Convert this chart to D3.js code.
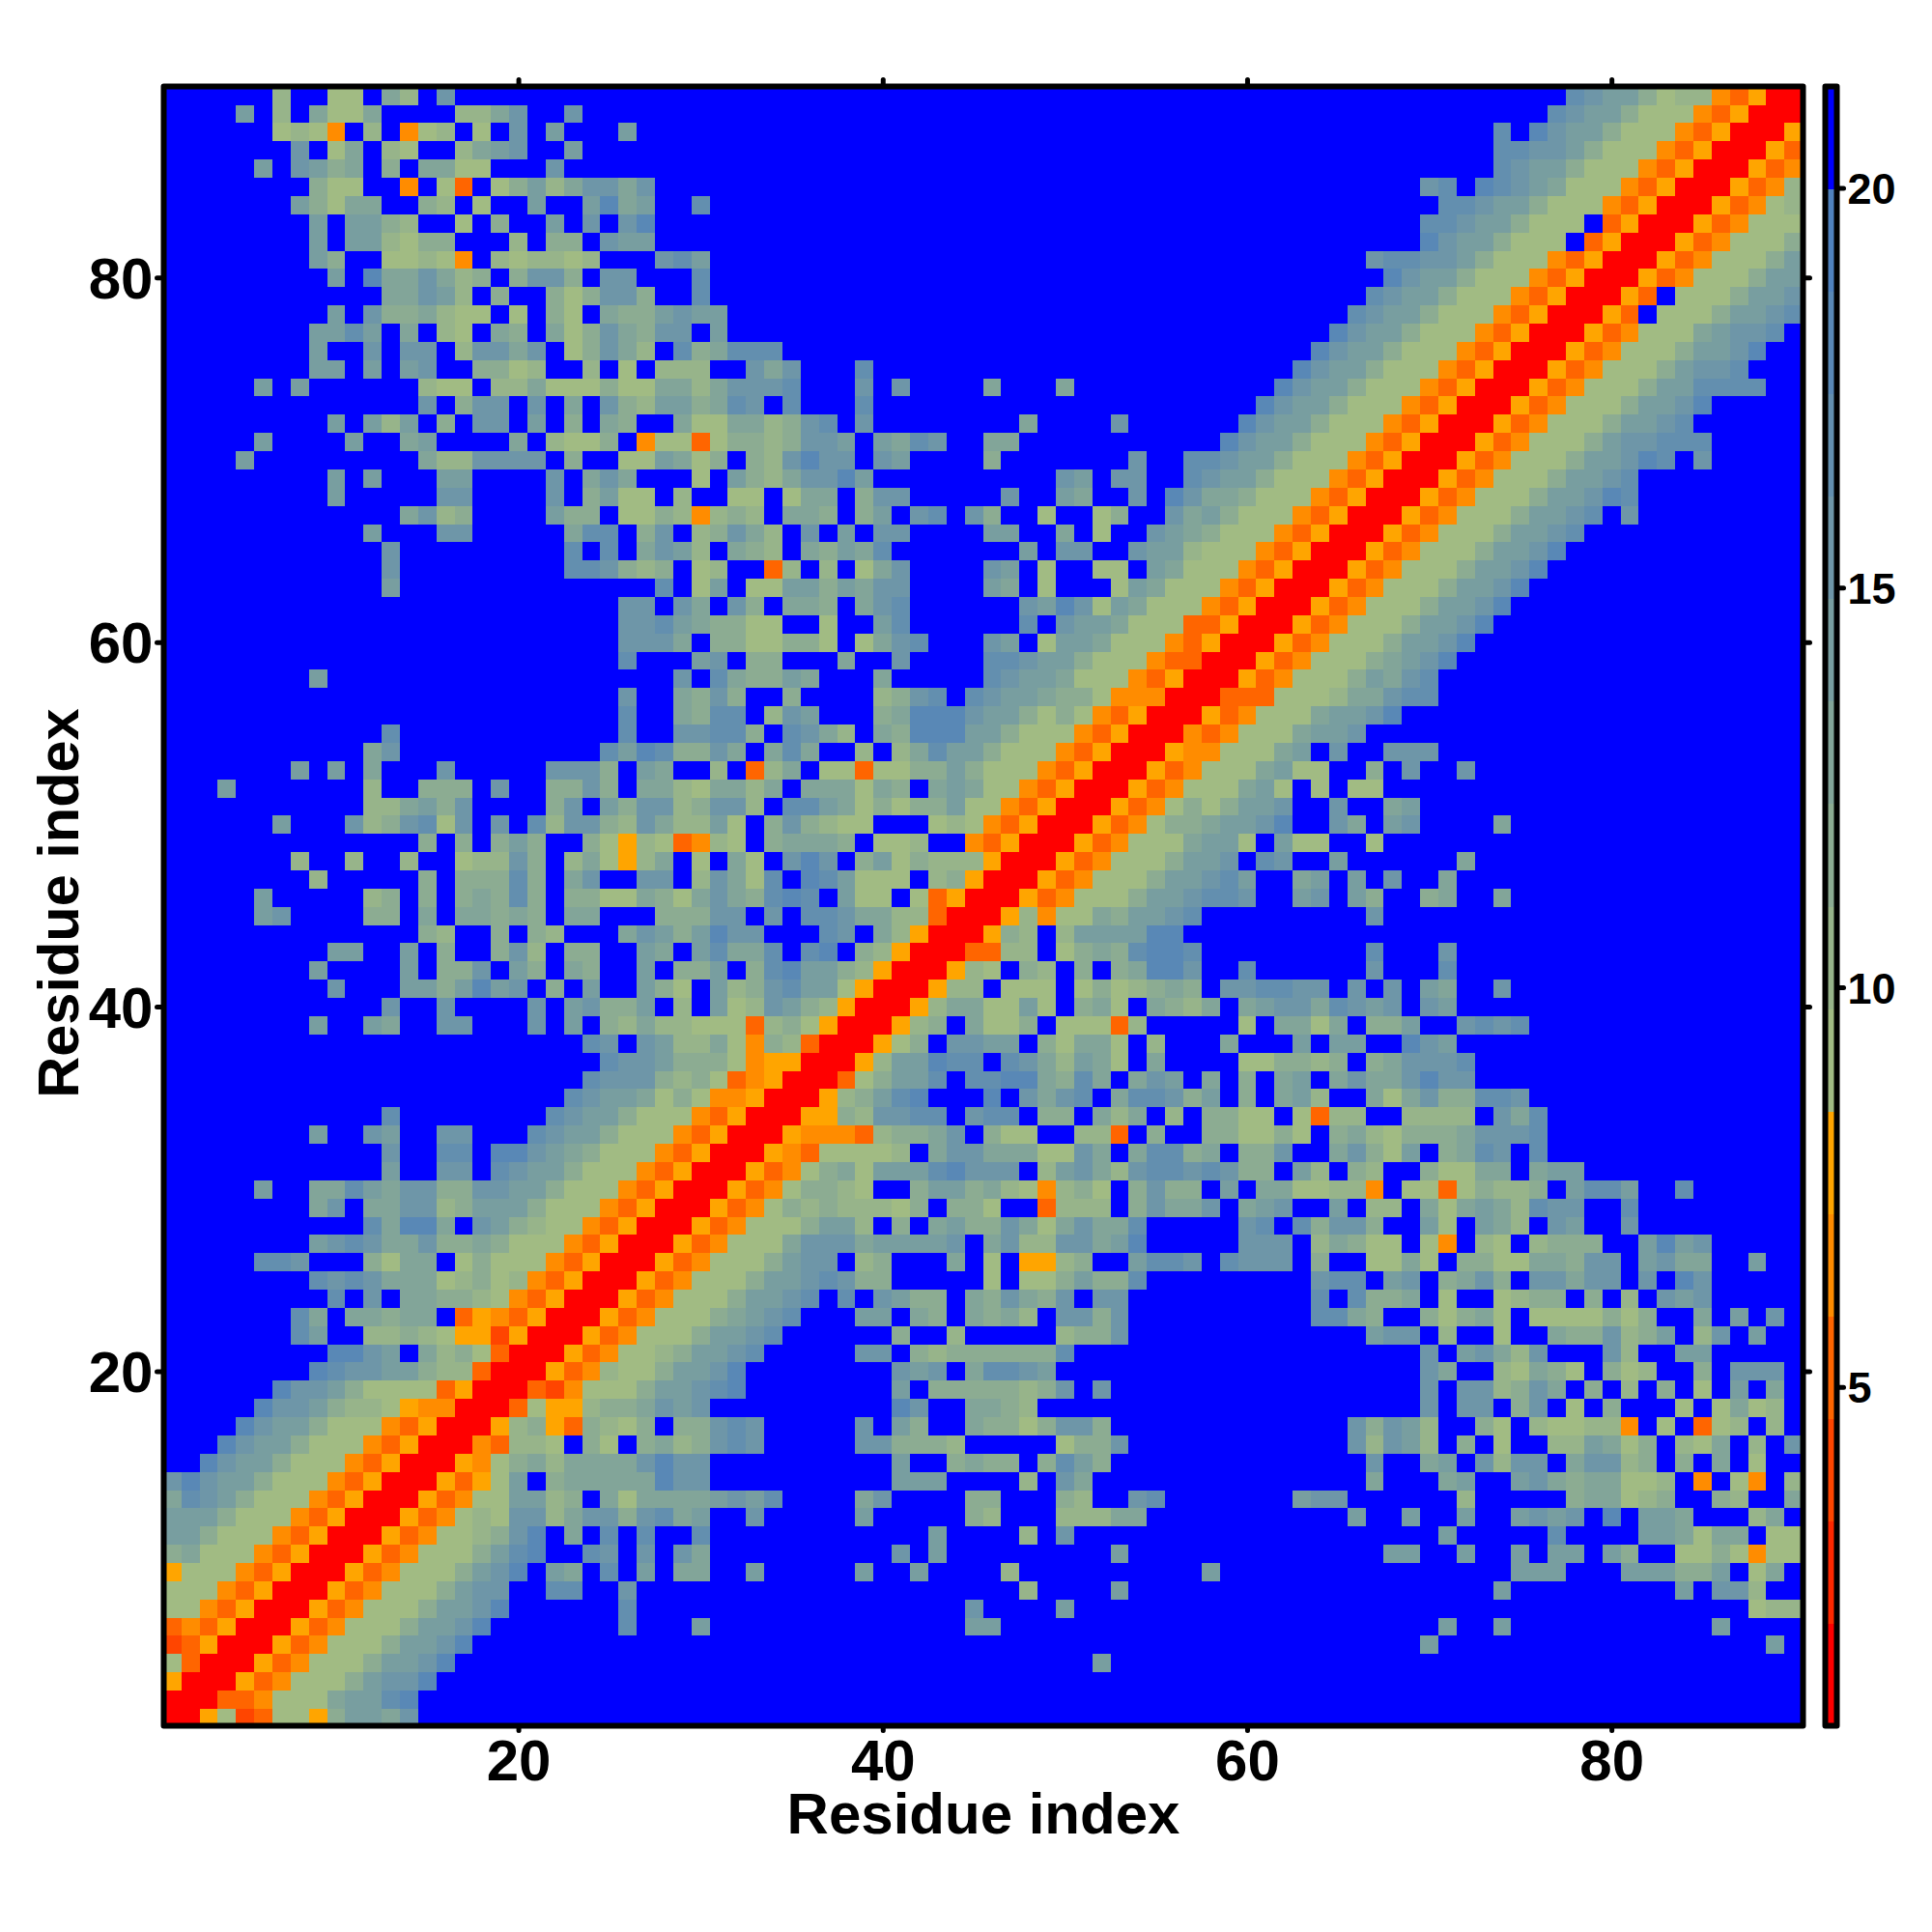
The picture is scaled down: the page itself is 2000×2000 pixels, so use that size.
<!DOCTYPE html>
<html>
<head>
<meta charset="utf-8">
<script src="https://cdn.jsdelivr.net/npm/d3@7/dist/d3.min.js"></script>
<style>
html,body{margin:0;padding:0;background:#fff}
text{font-family:"Liberation Sans",Arial,sans-serif;font-weight:bold;fill:#000}
</style>
</head>
<body>
<div id="chart"></div>
<script>
// Distance-map classes per residue pair. Each entry is one row of the upper-left
// triangle, from residue 90 down to residue 1; "k:chars" = classes starting at
// column k+1. Cells not listed are class 0. The matrix is symmetric.
const upperRows = [
"6:2 9:11 12:42 15:6 77:76553122droRR",
"4:5 6:2 8:4114 16:2246 22:6 76:76553111droRR",
"6:121d 11:2 13:d12 17:1 19:6 21:5 25:5 73:7 75:86553111droRR",
"7:6 9:14 12:21 16:2456 22:5 73:776653111droRR",
"5:5 7:6534 12:3 14:4411 21:6 73:76553111droRR",
"8:311 13:d 15:1r 18:135246646 69:67 72:87654111droRR",
"7:53144 14:32 17:1 20:5 23:5845 29:7 70:776553111droRR",
"8:5 10:5532 16:1 18:3 21:5 23:6 25:68 69:7765531110roRR",
"8:5 10:552133 19:2 21:33 24:655 69:865531110roRR",
"8:53 12:1121d 18:212212 27:675 66:6776653111droRR",
"9:5 11:8446423 19:3663 24:66 29:7 67:86553111droRR",
"12:44652 18:3 21:313663 29:7 66:76553111droRR",
"9:5 11:6334211 19:1 21:31 24:4335655 65:76553111droRR",
"8:5575 13:4 15:21 18:43 21:41364366 30:5 64:86553111droRR",
"8:5 11:6 13:66 16:26646 22:13642 28:734777 63:86553111droRR",
"8:55 11:5 13:56 17:3312 23:2 25:1 27:222 32:646 38:7 62:86553111droRR",
"5:5 7:5 14:211 18:22411131144246667 38:6 40:6 45:4 49:4 61:86553111droRR",
"14:6 16:366 20:6 22:4 24:632553476 34:7 38:7 60:86553111droRR",
"9:5 11:525 15:3 17:66 20:5 22:3 24:43 28:411442367 38:6 47:4 52:6 59:86553111droRR",
"5:5 10:5 13:45 19:4 21:2113 26:d11r13323665 39:5476 45:44 58:86553111droRR",
"4:5 14:4226666 22:3 25:115413 32:326866 39:65 45:3 53:6 56:776553111droRR",
"9:5 11:5 15:55 21:6 23:464 29:1 31:53246685 49:65 52:66 56:76553111droRR",
"9:5 15:66 21:6 23:3511 28:2 31:11 34:144 38:366 46:6 49:54 53:6 55:86443111droRR",
"13:4623 21:533 25:1132d232 34:443 38:35 41:67 44:63 48:1 51:13 55:6453111droRR",
"11:5 15:66 22:477 26:36 29:23642 35:6 37:5 39:66 45:55 49:4 51:1 54:6543111droRR",
"12:6 22:7 24:7 26:4652 31:432 35:43547 47:5 49:66 53:6552111droRR",
"12:6 22:776323 29:12 33:r2 36:2 38:146 45:65 48:1 51:11 54:54111droRR",
"12:5 27:7 29:15 32:115535466 45:54 48:1 52:154111droRR",
"25:66 28:64 31:63 34:443 38:467 47:6586154111droRR",
"25:667543311 36:1 39:57 47:7 49:6554111rroRR",
"25:6664 30:3311331 38:1467 45:65 48:1554111droRR",
"25:7 29:56 32:33 37:4 40:6 45:776553111drrRR",
"8:5 28:6 30:743354 39:4 45:76554111droRR",
"25:6 28:4363 34:3 39:2367 44:76554331dddRR",
"25:7 28:4377 33:265 39:348886553131droRR",
"12:7 25:7 28:66773 34:7642 39:43888553111droRR",
"11:46 24:75873364 33:474 38:2 40:247553111droRR",
"7:5 9:5 11:4 15:6 21:6663 26:54 30:2 32:r24 36:11r113353111droRR",
"3:5 11:2 14:333 18:6 21:3363 26:44214424 35:444143 42:45411droRR",
"11:224536 21:36 24:536623662 34:775413133511droRR",
"6:5 10:6236716 18:6 20:726632642251 33:363211 42:121droRR",
"14:3 16:3 18:353 23:31o21rd21 33:34443 39:112 44:droRR",
"7:2 10:2 13:2 16:12263 22:241o24 29:1 31:41 34:686 38:3513222oRR",
"8:2 14:3 16:33373 22:46 26:66 29:26417 35:875111 42:23oRR",
"5:5 11:23 14:3 16:34373 22:33114314643787 37:511 41:1roRR",
"5:56 11:33 14:4 16:44343 22:44 27:33366 33:6 35:7764422rRR",
"14:32 18:3 20:32 25:46535866 36:76 39:42oRR",
"9:55 13:5 15:3 18:362 22:33 26:54 29:57447 35:78 38:32oRR",
"8:5 13:5 15:336 19:53 22:43 26:5 28:335 32:3785532oRR",
"9:6 13:5535856 21:3 23:5 26:531 30:52367551oRR",
"12:6 15:6 20:6 22:56335 28:2 30:5126532oRR",
"8:5 11:54 15:66 20:6 22:5 24:32422111r231oRR",
"23:76 26:652241d32rRR",
"24:76653331dooRR",
"23:76663231rdoRR",
"22:76554131ddoRR",
"12:7 21:76553111droRR",
"8:5 11:65 15:66 20:76553111droRR",
"12:6 15:77 18:886543111droRR",
"12:5 15:66 18:76553111droRR",
"5:5 8:44754663366553111droRR",
"8:46 11:4466235553111droRR",
"11:74884 17:653211droRR",
"8:56764463343111droRR",
"5:776 11:3144 16:13111droRR",
"8:767644412312droRR",
"9:7 11:6 13:443321droRR",
"7:74 10:44344 16:rodroRR",
"7:75 11:22321ootoRR",
"9:8865 14:4231rRR",
"8:876655322rRR",
"6:866531111roRR",
"5:86653221oddRR",
"4:86553111droRR",
"3:86553111droRR",
"2:86553111droRR",
"0:686553111droRR",
"0:47653111droRR",
"0:5553111droRR",
"0:553111droRR",
"0:34111droRR",
"0:o111droRR",
"0:111droRR",
"0:11droRR",
"0:rdroRR",
"0:troRR",
"0:1rRR",
"0:oRR",
"0:RR",
"0:R"
];

// Colour-bar classes, bottom to top, with the class code each one stands for.
const classCodes  = ["R","f","t","r","d","o","1","2","3","4","5","6","7","8","9","0"];
const classColors = ["#ff0000","#ff2800","#ff4500","#ff6500","#ff8c00","#ffa500",
  "#a1bb83","#97b48a","#8cac92","#82a599","#789ea0","#6e96a8","#638faf","#5988b6","#4f81bd","#0000ff"];
const axisTicks = [20,40,60,80];
const barTicks = [5,10,15,20];
const residueCount = 90;
const barMin = 0.76, barMax = 21.27;

const W = 2000, H = 2000;
const svg = d3.select("#chart").append("svg").attr("width",W).attr("height",H)
  .style("display","block").style("background","#fff");

const x = d3.scaleLinear().domain([0.5,residueCount+0.5]).range([168.8,1866.2]);
const y = d3.scaleLinear().domain([0.5,residueCount+0.5]).range([1787.3,89.2]);
const barY = d3.scaleLinear().domain([barMin,barMax]).range([1786.5,89.5]);
const colorOf = d3.scaleOrdinal().domain(classCodes).range(classColors);

// expand rows into a symmetric cell list
const grid = new Map();
upperRows.forEach((row,i)=>{
  const res = residueCount - i;
  row.split(" ").forEach(seg=>{
    const [s,chars] = seg.split(":");
    [...chars].forEach((c,j)=>{
      const col = +s + j + 1;
      grid.set(col+"_"+res,c); grid.set(res+"_"+col,c);
    });
  });
});
const cells = [];
for(let a=1;a<=residueCount;a++)for(let b=1;b<=residueCount;b++){
  cells.push({a,b,c:grid.get(a+"_"+b)||"0"});
}

svg.append("g").attr("shape-rendering","crispEdges").selectAll("rect").data(cells).join("rect")
  .attr("x",d=>x(d.a-0.5))
  .attr("y",d=>y(d.b+0.5))
  .attr("width",d=>x(d.a+0.5)-x(d.a-0.5)+0.5)
  .attr("height",d=>y(d.b-0.5)-y(d.b+0.5)+0.5)
  .attr("fill",d=>colorOf(d.c));

function styleAxis(g){
  g.select(".domain").remove();
  g.selectAll(".tick line").attr("stroke","#000").attr("stroke-width",5).attr("stroke-linecap","round");
}
const axisFont = 60;
const left = 169.5, right = 1866.5, top_ = 89.5, bottom = 1786.5;

svg.append("g").attr("transform",`translate(${left},0)`)
  .call(d3.axisLeft(y).tickValues(axisTicks).tickSize(7).tickPadding(4).tickFormat(d3.format("d")))
  .call(styleAxis).call(g=>g.selectAll("text").attr("font-size",axisFont).attr("dy","0.35em"));
svg.append("g").attr("transform",`translate(0,${bottom})`)
  .call(d3.axisBottom(x).tickValues(axisTicks).tickSize(5).tickPadding(9).tickFormat(d3.format("d")))
  .call(styleAxis).call(g=>g.selectAll("text").attr("font-size",axisFont));
svg.append("g").attr("transform",`translate(0,${top_})`)
  .call(d3.axisTop(x).tickValues(axisTicks).tickSize(7).tickFormat(""))
  .call(styleAxis);
svg.append("g").attr("transform",`translate(${right},0)`)
  .call(d3.axisRight(y).tickValues(axisTicks).tickSize(7).tickFormat(""))
  .call(styleAxis);

svg.append("rect").attr("x",left).attr("y",top_).attr("width",right-left).attr("height",bottom-top_)
  .attr("fill","none").attr("stroke","#000").attr("stroke-width",6).attr("stroke-linejoin","round");

svg.append("text").attr("x",1018).attr("y",1898).attr("text-anchor","middle").attr("font-size",axisFont).text("Residue index");
svg.append("text").attr("transform","translate(81,935) rotate(-90)").attr("text-anchor","middle").attr("font-size",59.5).text("Residue index");

// colour bar
const step = (barMax-barMin)/classColors.length;
const barX = 1889.5, barW = 12;
svg.append("g").attr("shape-rendering","crispEdges").selectAll("rect").data(classColors).join("rect")
  .attr("x",barX).attr("width",barW)
  .attr("y",(d,i)=>barY(barMin+(i+1)*step))
  .attr("height",(d,i)=>barY(barMin+i*step)-barY(barMin+(i+1)*step)+0.5)
  .attr("fill",d=>d);
svg.append("rect").attr("x",barX).attr("y",top_).attr("width",barW).attr("height",bottom-top_)
  .attr("fill","none").attr("stroke","#000").attr("stroke-width",6).attr("stroke-linejoin","round");
svg.append("g").attr("transform",`translate(${barX+barW},0)`)
  .call(d3.axisRight(barY).tickValues(barTicks).tickSize(7).tickPadding(4).tickFormat(d3.format("d")))
  .call(styleAxis).call(g=>g.selectAll("text").attr("font-size",45).attr("dy","0.36em"));
</script>
</body>
</html>
